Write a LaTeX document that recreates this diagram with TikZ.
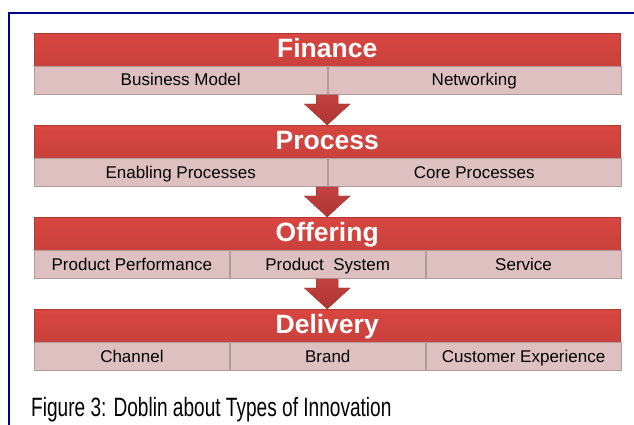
\documentclass[tikz,border=0pt]{standalone}
\usepackage{fontspec}
\setmainfont{Liberation Sans}
\usepackage{xcolor}
\usepackage{graphicx}
\usetikzlibrary{positioning,calc}

\definecolor{bandred}{RGB}{216,70,65}
\definecolor{bandpink}{RGB}{222,192,192}
\definecolor{arrowred}{RGB}{192,57,55}
\definecolor{framenavy}{RGB}{0,0,140}

\begin{document}
\begin{tikzpicture}[x=1pt, y=1pt,
  band/.style={top color=bandred, bottom color=bandred!93!black, draw=bandred!80!black, line width=0.4pt,
    minimum width=586pt, minimum height=33pt, inner sep=0pt, text=white,
    text height=19pt, text depth=2.5pt, font=\fontsize{26.5}{28}\selectfont\bfseries},
  cell/.style={fill=bandpink, draw=bandpink!80!black, line width=0.5pt, minimum height=28pt, inner sep=0pt,
    text height=12.2pt, text depth=1.5pt, font=\fontsize{17}{19}\selectfont},
  downarrow/.style={top color=arrowred!95!white, bottom color=arrowred!90!black, draw=arrowred!80!black, line width=0.3pt}]
\useasboundingbox (0,0) rectangle (634,424);

% frame
\draw[framenavy, line width=1.5pt] (9,-5) -- (9,411) -- (640,411);

% bands
\node[band, anchor=north west] (finance) at (34,391) {Finance};
\node[cell, minimum width=293pt, anchor=north west] (fin_1) at (finance.south west) {Business Model};
\node[cell, minimum width=293pt, anchor=north west] (fin_2) at (fin_1.north east) {Networking};

\node[band, anchor=north west] (process) at (34,299) {Process};
\node[cell, minimum width=293pt, anchor=north west] (pro_1) at (process.south west) {Enabling Processes};
\node[cell, minimum width=293pt, anchor=north west] (pro_2) at (pro_1.north east) {Core Processes};

\node[band, anchor=north west] (offering) at (34,207) {Offering};
\node[cell, minimum width=195.33pt, anchor=north west] (off_1) at (offering.south west) {Product Performance};
\node[cell, minimum width=195.33pt, anchor=north west] (off_2) at (off_1.north east) {Product\ \ System};
\node[cell, minimum width=195.33pt, anchor=north west] (off_3) at (off_2.north east) {Service};

\node[band, anchor=north west] (delivery) at (34,115) {Delivery};
\node[cell, minimum width=195.33pt, anchor=north west] (del_1) at (delivery.south west) {Channel};
\node[cell, minimum width=195.33pt, anchor=north west] (del_2) at (del_1.north east) {Brand};
\node[cell, minimum width=195.33pt, anchor=north west] (del_3) at (del_2.north east) {Customer Experience};

% arrows between bands
\foreach \a/\c/\b in {finance/fin_1/process, process/pro_1/offering, offering/off_1/delivery}
  \draw[downarrow] let \p1=(\a.south |- \c.south), \p2=(\b.north) in
    (\x1-11,\y1) -- (\x1+11,\y1) -- (\x1+11,\y1-9) -- (\x1+23,\y1-9) -- (\x2,\y2)
    -- (\x1-23,\y1-9) -- (\x1-11,\y1-9) -- cycle;

\node[anchor=base west, inner sep=0pt, font=\fontsize{26.5}{30}\selectfont] (caption) at (31,8)
  {\scalebox{0.72}[1]{Figure 3: Doblin about Types of Innovation}};

\end{tikzpicture}
\end{document}
